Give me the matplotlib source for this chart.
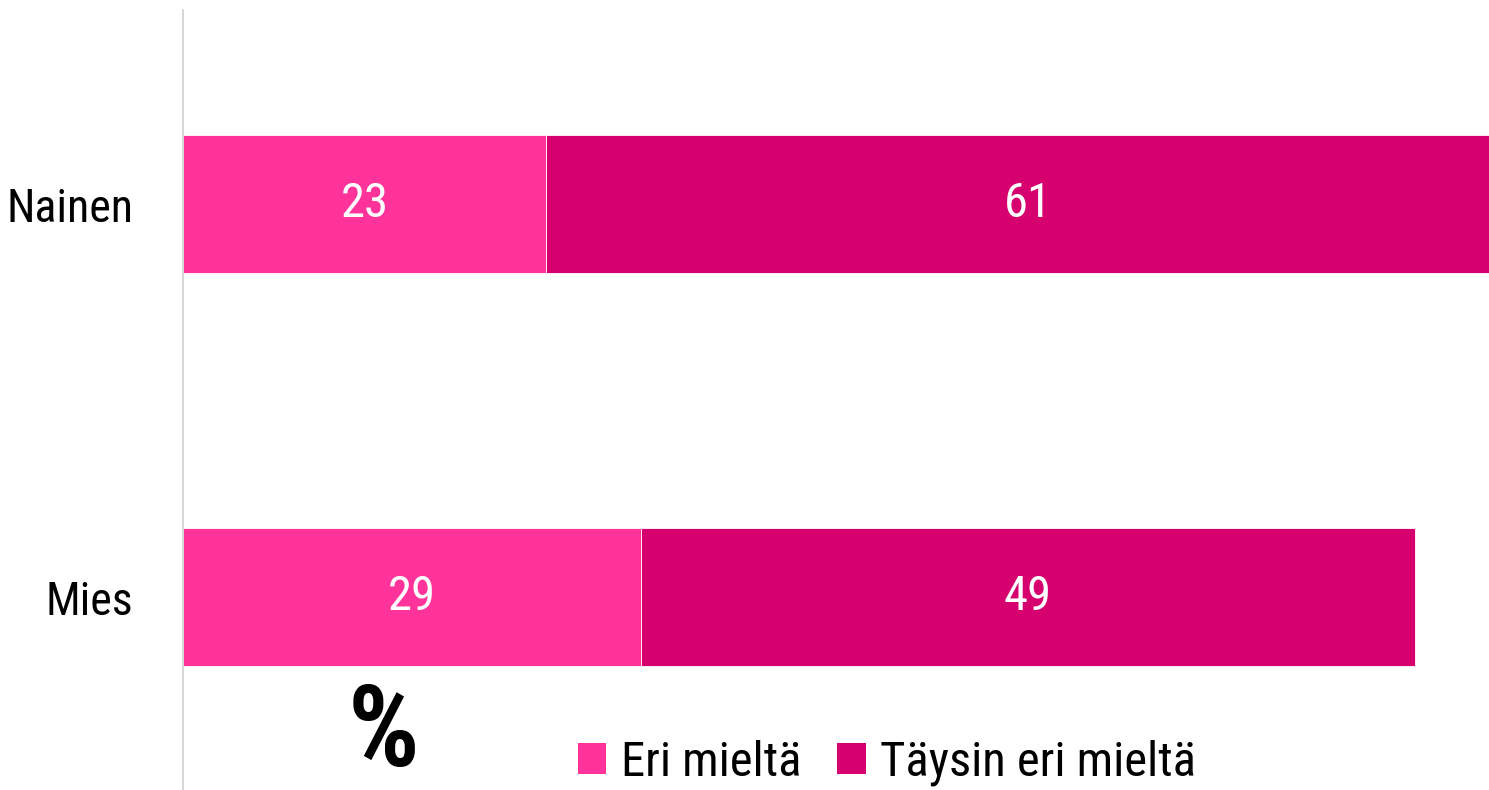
import numpy as np
import matplotlib
matplotlib.use("Agg")
import matplotlib.pyplot as plt
from matplotlib.patches import Patch

categories = ['Mies', 'Nainen']
eri_mielta = [29, 23]
taysin_eri_mielta = [49, 61]
series_names = ['Eri mieltä', 'Täysin eri mieltä']
colors = ['#FF3399', '#D6006F']

plt.rcParams['font.family'] = ['Noto Sans Condensed', 'Roboto Condensed', 'Open Sans Condensed',
                               'Noto Sans', 'DejaVu Sans']
plt.rcParams['font.stretch'] = 'condensed'

fig = plt.figure(figsize=(14.89, 7.90), dpi=100)
ax = fig.add_axes([183 / 1489, 0, 1 - 183 / 1489, 780 / 790])

y = np.arange(len(categories))
h = 0.351
ax.barh(y, eri_mielta, height=h, color=colors[0], edgecolor='white', linewidth=0.6)
ax.barh(y, taysin_eri_mielta, left=eri_mielta, height=h, color=colors[1],
        edgecolor='white', linewidth=0.6)

# arvot palkkien keskelle
for i in range(len(categories)):
    ax.text(eri_mielta[i] / 2, y[i], str(eri_mielta[i]), color='white',
            fontsize=35, ha='center', va='center')
    ax.text(eri_mielta[i] + taysin_eri_mielta[i] / 2, y[i], str(taysin_eri_mielta[i]),
            color='white', fontsize=35, ha='center', va='center')

ax.set_xlim(0, 82.7)
ax.set_ylim(-0.491, 1.494)
ax.set_yticks(y)
ax.set_yticklabels(categories, fontsize=33)
ax.tick_params(axis='y', length=0, pad=36)
ax.set_xticks([])
for s in ['top', 'right', 'bottom']:
    ax.spines[s].set_visible(False)
ax.spines['left'].set_color('#d0d0d0')
ax.spines['left'].set_linewidth(1.2)

fig.text(384 / 1489, 0.001, '%', fontsize=81, fontweight='bold', ha='center', va='bottom')

handles = [Patch(facecolor=c, edgecolor='none') for c in colors]
fig.legend(handles, series_names, loc='lower left', bbox_to_anchor=(534 / 1489, -40 / 790),
           ncol=2, frameon=False, fontsize=35, handlelength=0.58, handleheight=0.62,
           handletextpad=0.3, columnspacing=0.75)

fig.savefig('out.png', dpi=100)
